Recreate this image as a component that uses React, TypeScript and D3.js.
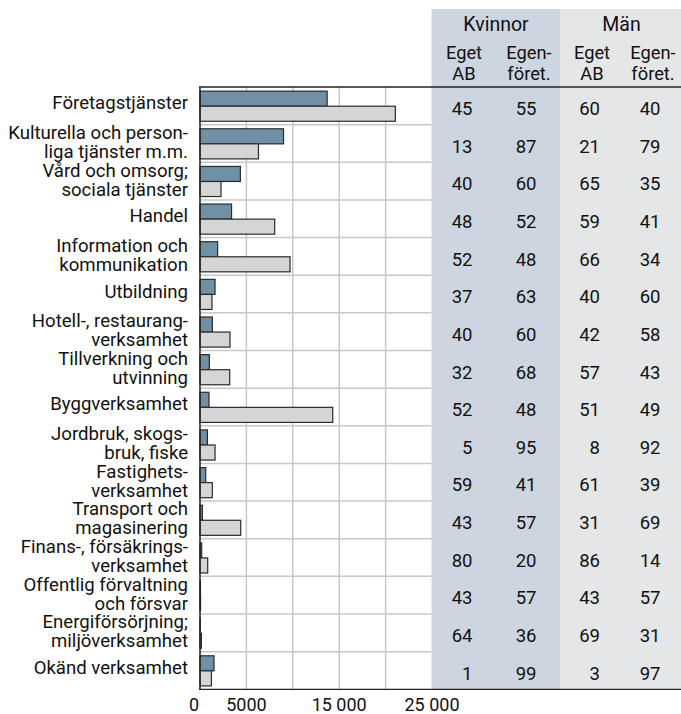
import React from "react";
import * as d3 from "d3";

const categories: string[][] = [
  ["Företagstjänster"],
  ["Kulturella och person-", "liga tjänster m.m."],
  ["Vård och omsorg;", "sociala tjänster"],
  ["Handel"],
  ["Information och", "kommunikation"],
  ["Utbildning"],
  ["Hotell-, restaurang-", "verksamhet"],
  ["Tillverkning och", "utvinning"],
  ["Byggverksamhet"],
  ["Jordbruk, skogs-", "bruk, fiske"],
  ["Fastighets-", "verksamhet"],
  ["Transport och", "magasinering"],
  ["Finans-, försäkrings-", "verksamhet"],
  ["Offentlig förvaltning", "och försvar"],
  ["Energiförsörjning;", "miljöverksamhet"],
  ["Okänd verksamhet"],
];

const kvinnorValues = [13700, 9000, 4350, 3400, 1900, 1620, 1330, 1010, 970, 800, 610, 260, 180, 50, 30, 1510];
const manValues = [21050, 6300, 2260, 8050, 9700, 1290, 3230, 3200, 14300, 1620, 1330, 4390, 830, 60, 150, 1230];

const kvinnorEgetAB = [45, 13, 40, 48, 52, 37, 40, 32, 52, 5, 59, 43, 80, 43, 64, 1];
const kvinnorEgenforet = [55, 87, 60, 52, 48, 63, 60, 68, 48, 95, 41, 57, 20, 57, 36, 99];
const manEgetAB = [60, 21, 65, 59, 66, 40, 42, 57, 51, 8, 61, 31, 86, 43, 69, 3];
const manEgenforet = [40, 79, 35, 41, 34, 60, 58, 43, 49, 92, 39, 69, 14, 57, 31, 97];

const xTicks = [0, 5000, 10000, 15000, 20000, 25000];
const xTickLabels = [0, 5000, 15000, 25000];
const groupHeaders = ["Kvinnor", "Män"];
const subHeaders = [["Eget", "AB"], ["Egen-", "föret."]];

const W = 681;
const H = 714;
const FONT = "Roboto, 'Noto Sans', sans-serif";

export default function App() {
  const plotLeft = 200;
  const plotRight = 432;
  const top = 87;
  const bottom = 689.3;
  const tableLeft = 431.5;
  const tableMid = 560;
  const tableRight = W;

  const x = d3.scaleLinear().domain([0, 25000]).range([plotLeft, plotRight]);
  const idx = categories.map((_, i) => String(i));
  const y = d3.scaleBand().domain(idx).range([top, bottom]).padding(0);
  const bw = y.bandwidth();
  const barH = bw * 0.4;
  const barOff = bw * 0.11;

  const fmt = (v: number) => (v >= 10000 ? d3.format(",")(v).replace(/,/g, " ") : String(v));

  const numCols = [
    { data: kvinnorEgetAB, x: 472.5 },
    { data: kvinnorEgenforet, x: 536.5 },
    { data: manEgetAB, x: 600 },
    { data: manEgenforet, x: 660.5 },
  ];
  const subCenters = [464, 529, 592, 653];

  return (
    <svg width={W} height={H} style={{ position: "absolute", left: 0, top: 0, background: "#fff" }} fontFamily={FONT}>
      {/* table backgrounds */}
      <rect x={tableLeft} y={9} width={tableMid - tableLeft} height={bottom - 9} fill="#cdd6e0" />
      <rect x={tableMid} y={9} width={tableRight - tableMid} height={bottom - 9} fill="#e5e6e8" />

      {/* gridlines */}
      {xTicks.slice(1, -1).map((t) => (
        <line key={"gx" + t} x1={x(t)} x2={x(t)} y1={top} y2={bottom} stroke="#c8c8c8" strokeWidth={1.5} />
      ))}
      {idx.slice(1).map((d) => (
        <line key={"gy" + d} x1={plotLeft} x2={tableLeft} y1={y(d)!} y2={y(d)!} stroke="#c8c8c8" strokeWidth={1.5} />
      ))}

      {/* bars */}
      {idx.map((d, i) => (
        <g key={"b" + d}>
          <rect x={x(0)} y={y(d)! + barOff} width={x(kvinnorValues[i]) - x(0)} height={barH} fill="#6f90a5" stroke="#2a2a2a" strokeWidth={1.2} />
          <rect x={x(0)} y={y(d)! + barOff + barH} width={x(manValues[i]) - x(0)} height={barH} fill="#d4d5d7" stroke="#2a2a2a" strokeWidth={1.2} />
        </g>
      ))}

      {/* axes lines */}
      <line x1={plotLeft} x2={plotLeft} y1={top} y2={bottom} stroke="#222" strokeWidth={1.5} />
      <line x1={plotLeft - 1} x2={tableRight} y1={top} y2={top} stroke="#222" strokeWidth={1.3} />
      <line x1={plotLeft - 1} x2={tableRight} y1={bottom} y2={bottom} stroke="#222" strokeWidth={1.3} />

      {/* category labels */}
      {categories.map((lines, i) => {
        const c = y(String(i))! + bw / 2;
        const lh = 19;
        const first = c + 3.5 - (lines.length - 1) * 8;
        return (
          <text key={"c" + i} textAnchor="end" fontSize={18.6} fill="#111">
            {lines.map((l, j) => (
              <tspan key={j} x={188} y={first + j * lh}>{l}</tspan>
            ))}
          </text>
        );
      })}

      {/* x tick labels */}
      {xTickLabels.map((t) => (
        <text key={"t" + t} x={t === 0 ? x(0) - 1 : x(t)} y={bottom + 22} textAnchor={t === 0 ? "end" : "middle"} fontSize={18} fill="#111">
          {fmt(t)}
        </text>
      ))}

      {/* table headers */}
      <text x={496} y={31} textAnchor="middle" fontSize={19.5} fill="#111">{groupHeaders[0]}</text>
      <text x={621.5} y={31} textAnchor="middle" fontSize={19.5} fill="#111">{groupHeaders[1]}</text>
      {subCenters.map((cx, k) => (
        <text key={"sh" + k} textAnchor="middle" fontSize={18.3} fill="#111">
          {subHeaders[k % 2].map((l, j) => (
            <tspan key={j} x={cx} y={58.5 + j * 21.5}>{l}</tspan>
          ))}
        </text>
      ))}

      {/* table numbers */}
      {numCols.map((col, k) =>
        col.data.map((v, i) => (
          <text key={"n" + k + "-" + i} x={col.x} y={y(String(i))! + bw / 2 + 9.2} textAnchor="end" fontSize={18.5} fill="#111">
            {v}
          </text>
        ))
      )}
    </svg>
  );
}
